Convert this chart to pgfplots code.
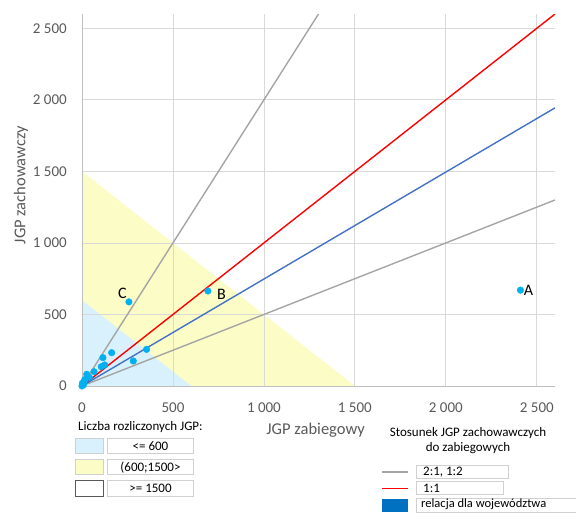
\documentclass[border=0pt]{standalone}
\usepackage{pgfplots}
\pgfplotsset{compat=1.18}
\usepackage{fontspec}
\setmainfont{Carlito}
\definecolor{tickgray}{HTML}{595959}
\definecolor{gridgray}{HTML}{D9D9D9}
\definecolor{axgray}{HTML}{BFBFBF}
\definecolor{ratiogray}{HTML}{A5A5A5}
\definecolor{yfill}{HTML}{FCFCC6}
\definecolor{bfill}{HTML}{D8F1FC}
\definecolor{ptblue}{HTML}{00B0F0}
\definecolor{lineblue}{HTML}{4472C4}
\definecolor{legblue}{HTML}{0070C0}
\definecolor{boxgray}{HTML}{D0D0D0}
\definecolor{legred}{HTML}{FF0000}
\begin{document}
\begin{tikzpicture}
\begin{axis}[
  at={(0pt,0pt)}, anchor=south west,
  scale only axis, width=473pt, height=372pt,
  set layers,
  xmin=0, xmax=2600, ymin=0, ymax=2600,
  axis x line*=bottom, axis y line*=left,
  axis line style={axgray, line width=1pt, -},
  xtick={0,500,1000,1500,2000,2500},
  ytick={0,500,1000,1500,2000,2500},
  xticklabels={0,500,1 000,1 500,2 000,2 500},
  yticklabels={0,500,1 000,1 500,2 000,2 500},
  major tick length=0pt,
  grid=major,
  major grid style={gridgray, line width=0.8pt},
  ticklabel style={font=\fontsize{15}{18}\selectfont, text=tickgray, inner sep=0pt},
  xticklabel style={anchor=center, yshift=-22pt},
  yticklabel style={anchor=east, xshift=-15pt},
  xlabel={JGP zabiegowy},
  ylabel={JGP zachowawczy},
  every axis x label/.style={at={(axis description cs:0.494,0)}, yshift=-44pt, anchor=center, font=\fontsize{16.5}{19}\selectfont, text=tickgray},
  every axis y label/.style={at={(axis description cs:0,0.54)}, xshift=-61pt, rotate=90, anchor=center, font=\fontsize{16.5}{19}\selectfont, text=tickgray},
  clip=true,
]
% regions
\addplot[on layer=axis background, draw=none, fill=yfill] coordinates {(0,0) (0,1500) (1500,0)} -- cycle;
\addplot[on layer=axis background, draw=none, fill=bfill] coordinates {(0,0) (0,600) (600,0)} -- cycle;
% ratio lines
\addplot[ratiogray, line width=1.4pt] coordinates {(0,0) (1300,2600)};
\addplot[ratiogray, line width=1.4pt] coordinates {(0,0) (2600,1300)};
\addplot[red, line width=1.4pt] coordinates {(0,0) (2600,2600)};
\addplot[lineblue, line width=1.4pt] coordinates {(0,0) (2600,1944)};
% points
\addplot[only marks, mark=*, mark size=3.3pt, mark options={fill=ptblue, draw=ptblue}] coordinates {
 (2410,670) (692,664) (258,588) (355,256) (163,233) (282,175) (115,198) (125,147)
 (106,135) (66,100) (26,82) (11,30) (2,19) (0,0) (8,8) (15,45) (40,60)
};
\node[anchor=west, inner sep=0pt, font=\fontsize{16}{19}\selectfont] at (axis cs:2428,670) {A};
\node[anchor=west, inner sep=0pt, font=\fontsize{16}{19}\selectfont] at (axis cs:742,643) {B};
\node[anchor=east, inner sep=0pt, font=\fontsize{16}{19}\selectfont] at (axis cs:247,650) {C};
\end{axis}
% left legend
\begin{scope}[font=\fontsize{13}{15}\selectfont]
\node[anchor=west, inner sep=0pt] at (-4pt,-41pt) {Liczba rozliczonych JGP:};
\filldraw[fill=bfill, draw=boxgray, line width=0.6pt] (-6.3pt,-52pt) rectangle (21.3pt,-67.7pt);
\draw[boxgray, fill=white, line width=0.6pt] (25.7pt,-52pt) rectangle (111.3pt,-67.7pt);
\node[inner sep=0pt] at (68.5pt,-59.9pt) {<= 600};
\filldraw[fill=yfill, draw=boxgray, line width=0.6pt] (-6.3pt,-73.7pt) rectangle (21.3pt,-88.7pt);
\draw[boxgray, fill=white, line width=0.6pt] (25.7pt,-73.7pt) rectangle (111.3pt,-88.7pt);
\node[inner sep=0pt] at (68.5pt,-81.2pt) {(600;1500>};
\filldraw[fill=white, draw=tickgray, line width=0.9pt] (-6.3pt,-94.3pt) rectangle (21.3pt,-110.3pt);
\draw[boxgray, fill=white, line width=0.6pt] (25.7pt,-94.3pt) rectangle (111.3pt,-110.3pt);
\node[inner sep=0pt] at (68.5pt,-102.3pt) {>= 1500};
% right legend
\node[inner sep=0pt] at (386pt,-47pt) {Stosunek JGP zachowawczych};
\node[inner sep=0pt] at (386pt,-62pt) {do zabiegowych};
\fill[ratiogray] (299.7pt,-84.9pt) rectangle (326.3pt,-86.5pt);
\draw[boxgray, fill=white, line width=0.6pt] (334.7pt,-79.5pt) rectangle (426.3pt,-92.5pt);
\node[anchor=west, inner sep=0pt] at (341pt,-86pt) {2:1, 1:2};
\fill[legred] (299.7pt,-101.5pt) rectangle (326.3pt,-103.1pt);
\draw[boxgray, fill=white, line width=0.6pt] (334.7pt,-95.5pt) rectangle (421.3pt,-108.5pt);
\node[anchor=west, inner sep=0pt] at (341pt,-102pt) {1:1};
\fill[legblue] (299.7pt,-113pt) rectangle (326.3pt,-126pt);
\draw[boxgray, fill=white, line width=0.6pt] (334.7pt,-112pt) rectangle (500pt,-126pt);
\node[anchor=west, inner sep=0pt, font=\fontsize{12.5}{14}\selectfont] at (339pt,-118.5pt) {relacja dla województwa};
\end{scope}
\pgfresetboundingbox
\path[use as bounding box] (-82pt,-126pt) rectangle (494pt,386pt);
\end{tikzpicture}
\end{document}
